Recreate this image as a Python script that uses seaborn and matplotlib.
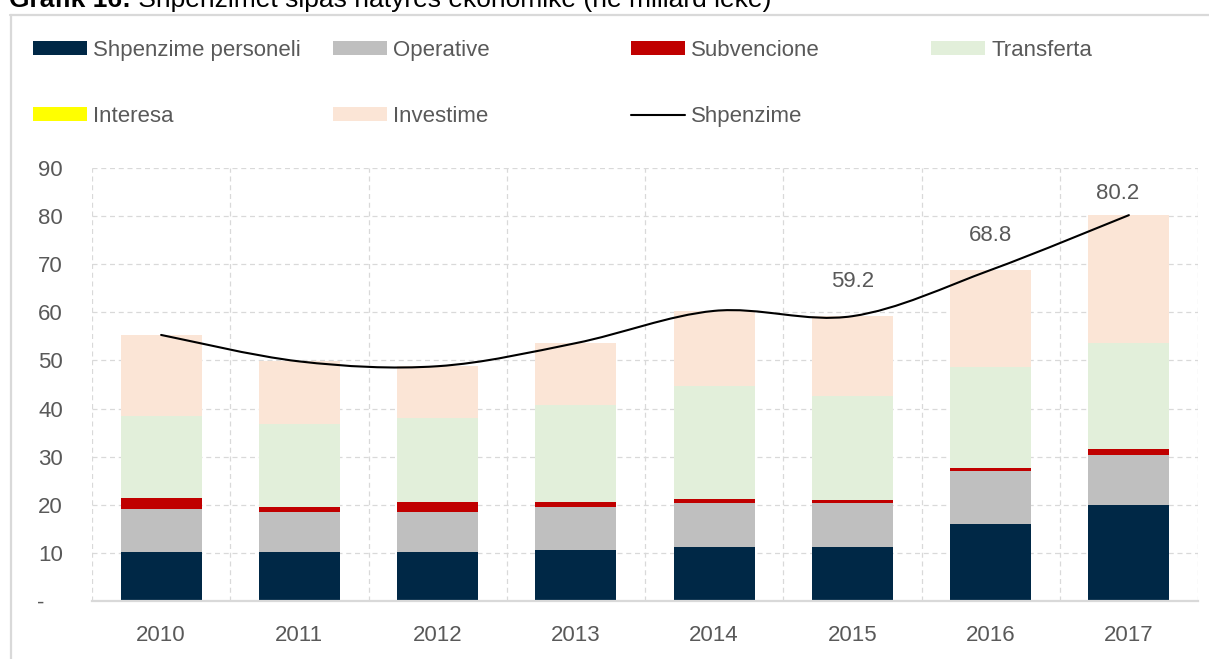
import numpy as np
import pandas as pd
import matplotlib
matplotlib.use("Agg")
import matplotlib.pyplot as plt
import seaborn as sns
from matplotlib.path import Path
from matplotlib.patches import PathPatch, Patch
from matplotlib.lines import Line2D

# ---------------- data ----------------
years = ["2010", "2011", "2012", "2013", "2014", "2015", "2016", "2017"]
personeli = [10.25, 10.25, 10.25, 10.7, 11.2, 11.2, 16.0, 20.0]
operative = [8.8, 8.3, 8.35, 8.8, 9.1, 9.1, 11.0, 10.4]
subvencione = [2.3, 1.0, 1.9, 1.0, 1.0, 0.6, 0.6, 1.1]
transferta = [17.2, 17.2, 17.6, 20.2, 23.4, 21.7, 21.0, 22.1]
interesa = [0.0, 0.0, 0.0, 0.0, 0.0, 0.0, 0.0, 0.0]
investime = [16.8, 13.05, 10.7, 12.9, 15.6, 16.6, 20.2, 26.6]
shpenzime = [55.3, 49.8, 48.8, 53.6, 60.3, 59.2, 68.8, 80.2]
labelled_years = ["2015", "2016", "2017"]
labelled_values = [59.2, 68.8, 80.2]
ytick_values = [0, 10, 20, 30, 40, 50, 60, 70, 80, 90]
ytick_labels = ["-   ", "10", "20", "30", "40", "50", "60", "70", "80", "90"]
title_bold = "Grafik 16:"
title_rest = " Shpenzimet sipas natyrës ekonomike (në miliard lekë)"

names = ["Shpenzime personeli", "Operative", "Subvencione", "Transferta", "Interesa", "Investime"]
colors = ["#002846", "#BFBFBF", "#C00000", "#E2EFDA", "#FFFF00", "#FBE5D6"]
series = [personeli, operative, subvencione, transferta, interesa, investime]

# ---------------- style ----------------
sns.set_theme(style="white")
plt.rcParams["font.family"] = ["Liberation Sans", "DejaVu Sans"]
TXT = "#595959"
GRID = "#D9D9D9"
FS = 16

W, H = 1209, 659
fig = plt.figure(figsize=(W / 100, H / 100), dpi=100)
fig.patch.set_facecolor("white")
ax = fig.add_axes([92 / W, 58 / H, (1198 - 92) / W, (601 - 168) / H])

bottom = np.zeros(len(years))
for name, vals, col in zip(names, series, colors):
    vals = np.asarray(vals, dtype=float)
    df = pd.DataFrame({"year": years, "value": vals})
    sns.barplot(data=df, x="year", y="value", bottom=bottom, color=col,
                saturation=1, width=0.585, errorbar=None, linewidth=0,
                ax=ax, zorder=2)
    bottom = bottom + vals

# smoothed total line (Catmull-Rom style cubic Bezier through the data points)
xs = np.arange(len(years), dtype=float)
ys = np.asarray(shpenzime, dtype=float)
pts = np.column_stack([xs, ys])
verts = [tuple(pts[0])]
codes = [Path.MOVETO]
n = len(pts)
for i in range(n - 1):
    p_prev = pts[max(i - 1, 0)]
    p0 = pts[i]
    p1 = pts[i + 1]
    p_next = pts[min(i + 2, n - 1)]
    c1 = p0 + (p1 - p_prev) / 6.0
    c2 = p1 - (p_next - p0) / 6.0
    verts += [tuple(c1), tuple(c2), tuple(p1)]
    codes += [Path.CURVE4] * 3
ax.add_patch(PathPatch(Path(verts, codes), facecolor="none", edgecolor="#000000",
                       lw=1.5, zorder=4, capstyle="round"))

# value labels
offsets = [(0, 24), (0, 24), (-11, 11)]
for yr, v, off in zip(labelled_years, labelled_values, offsets):
    xi = years.index(yr)
    ax.annotate(f"{v:.1f}", (xi, v), xytext=off, textcoords="offset pixels",
                ha="center", va="bottom", fontsize=FS, color=TXT, zorder=5)

# axes
ax.set_xlim(-0.5, len(years) - 0.5)
ax.set_ylim(0, 90)
ax.set_yticks(ytick_values)
ax.set_yticklabels(ytick_labels)
ax.set_xticks(xs)
ax.set_xticklabels(years)
ax.set_xticks(np.arange(-0.5, len(years), 1.0), minor=True)
ax.set_xlabel("")
ax.set_ylabel("")
ax.tick_params(axis="both", which="both", length=0, labelsize=FS, labelcolor=TXT)
ax.tick_params(axis="y", pad=21)
ax.tick_params(axis="x", pad=17)
ax.grid(False)
ax.yaxis.grid(True, color=GRID, lw=0.9, ls=(0, (4, 3)), zorder=0)
ax.xaxis.grid(True, which="minor", color=GRID, lw=0.9, ls=(0, (4, 3)), zorder=0)
ax.set_axisbelow(True)
for s in ["top", "right", "left"]:
    ax.spines[s].set_visible(False)
ax.spines["bottom"].set_color(GRID)
ax.spines["bottom"].set_linewidth(1.6)
ax.spines["bottom"].set_zorder(3)

# legend (four columns, each its own legend to match positions)
def handle(i):
    return Patch(facecolor=colors[i], edgecolor="none")

line_handle = Line2D([0], [0], color="#000000", lw=1.5)
cols = [
    ([handle(0), handle(4)], [names[0], names[4]], 33),
    ([handle(1), handle(5)], [names[1], names[5]], 333),
    ([handle(2), line_handle], [names[2], "Shpenzime"], 631),
    ([handle(3)], [names[3]], 931),
]
for hs, ls, x0 in cols:
    fig.legend(hs, ls, loc="upper left", bbox_to_anchor=(x0 / W, 1 - 40 / H),
               frameon=False, fontsize=FS, labelcolor=TXT, borderpad=0,
               borderaxespad=0, handlelength=2.43, handleheight=0.6,
               handletextpad=0.27, labelspacing=2.03)

# outer frame
fig.add_artist(Line2D([10 / W, 1.0], [1 - 14.5 / H, 1 - 14.5 / H], color=GRID,
                      lw=1.6, transform=fig.transFigure))
fig.add_artist(Line2D([10.5 / W, 10.5 / W], [0, 1 - 14.5 / H], color=GRID,
                      lw=1.6, transform=fig.transFigure))

# title (clipped at the top edge like the reference)
t1 = fig.text(9 / W, 1 - 7 / H, title_bold, fontsize=19, fontweight="bold",
              color="#000000", va="baseline", ha="left")
fig.canvas.draw()
bb = t1.get_window_extent()
fig.text(bb.x1 / W, 1 - 7 / H, title_rest, fontsize=19, color="#000000",
         va="baseline", ha="left")

fig.savefig("out.png", dpi=100, facecolor="white")
